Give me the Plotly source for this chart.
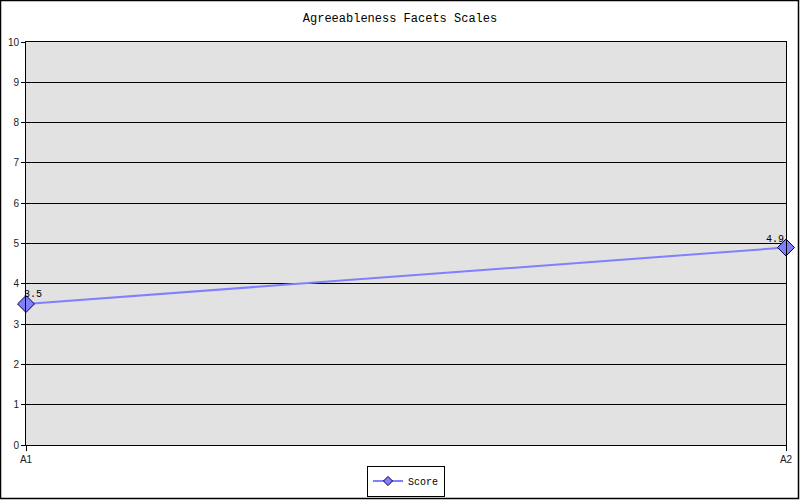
import plotly.graph_objects as go

facets = ['A1', 'A2']
scores = [3.5, 4.9]
score_labels = ['3.5', '4.9']
y_ticks = list(range(0, 11))

W, H = 800, 500
ml, mr, mt, mb = 26, 14, 42, 55
pw = W - ml - mr
ph = H - mt - mb

fig = go.Figure()
fig.add_trace(go.Scatter(
    x=facets, y=scores, mode='lines+markers', name='Score',
    showlegend=False,
    line=dict(color='#8080ff', width=2),
    marker=dict(symbol='diamond', size=13, color='#8080ff',
                line=dict(color='#000040', width=1)),
    cliponaxis=False,
))
# legend entry with a smaller marker, like the original
fig.add_trace(go.Scatter(
    x=[None], y=[None], mode='lines+markers', name='Score',
    line=dict(color='#8080ff', width=2),
    marker=dict(symbol='diamond', size=7, color='#8080ff',
                line=dict(color='#000040', width=1)),
))

shifts = [(7, 9), (-11, 8)]
for f, s, lab, (dx, dy) in zip(facets, scores, score_labels, shifts):
    fig.add_annotation(x=f, y=s, text=lab, showarrow=False,
                       xshift=dx, yshift=dy,
                       font=dict(family='Liberation Mono', size=10,
                                 color='#000000'))

fig.update_layout(
    width=W, height=H,
    margin=dict(l=ml, r=mr, t=mt, b=mb, autoexpand=False),
    paper_bgcolor='white', plot_bgcolor='#e2e2e2',
    title=dict(text='Agreeableness Facets Scales', x=0.5, y=1 - 18 / H,
               xanchor='center', yanchor='middle',
               font=dict(family='Liberation Mono', size=12, color='#000000')),
    xaxis=dict(type='category', range=[0, 1], showgrid=False,
               automargin=False,
               showline=True, linecolor='black', mirror=True,
               ticks='outside', ticklen=5, tickcolor='black',
               tickfont=dict(family='Liberation Sans', size=10, color='#222222')),
    yaxis=dict(range=[0, 10], tickvals=y_ticks, showgrid=True,
               automargin=False,
               gridcolor='black', gridwidth=1, zeroline=False,
               showline=True, linecolor='black', mirror=True,
               ticks='outside', ticklen=4, tickcolor='black',
               tickfont=dict(family='Liberation Sans', size=10, color='#222222')),
    showlegend=True,
    legend=dict(orientation='h', x=0.5, xanchor='center',
                y=-(481 - (H - mb)) / ph, yanchor='middle',
                bordercolor='black', borderwidth=1, bgcolor='white',
                itemwidth=30, tracegroupgap=0,
                font=dict(family='Liberation Mono', size=10, color='#000000')),
)

# outer frame around the whole image
fig.add_shape(type='rect', xref='paper', yref='paper',
              x0=-(ml - 0.5) / pw, x1=1 + (mr - 1.5) / pw,
              y0=-(mb - 1.5) / ph, y1=1 + (mt - 0.5) / ph,
              line=dict(color='black', width=1.5))

fig.write_html('out.html', config={'displayModeBar': False},
               post_script="document.body.style.margin='0';")
